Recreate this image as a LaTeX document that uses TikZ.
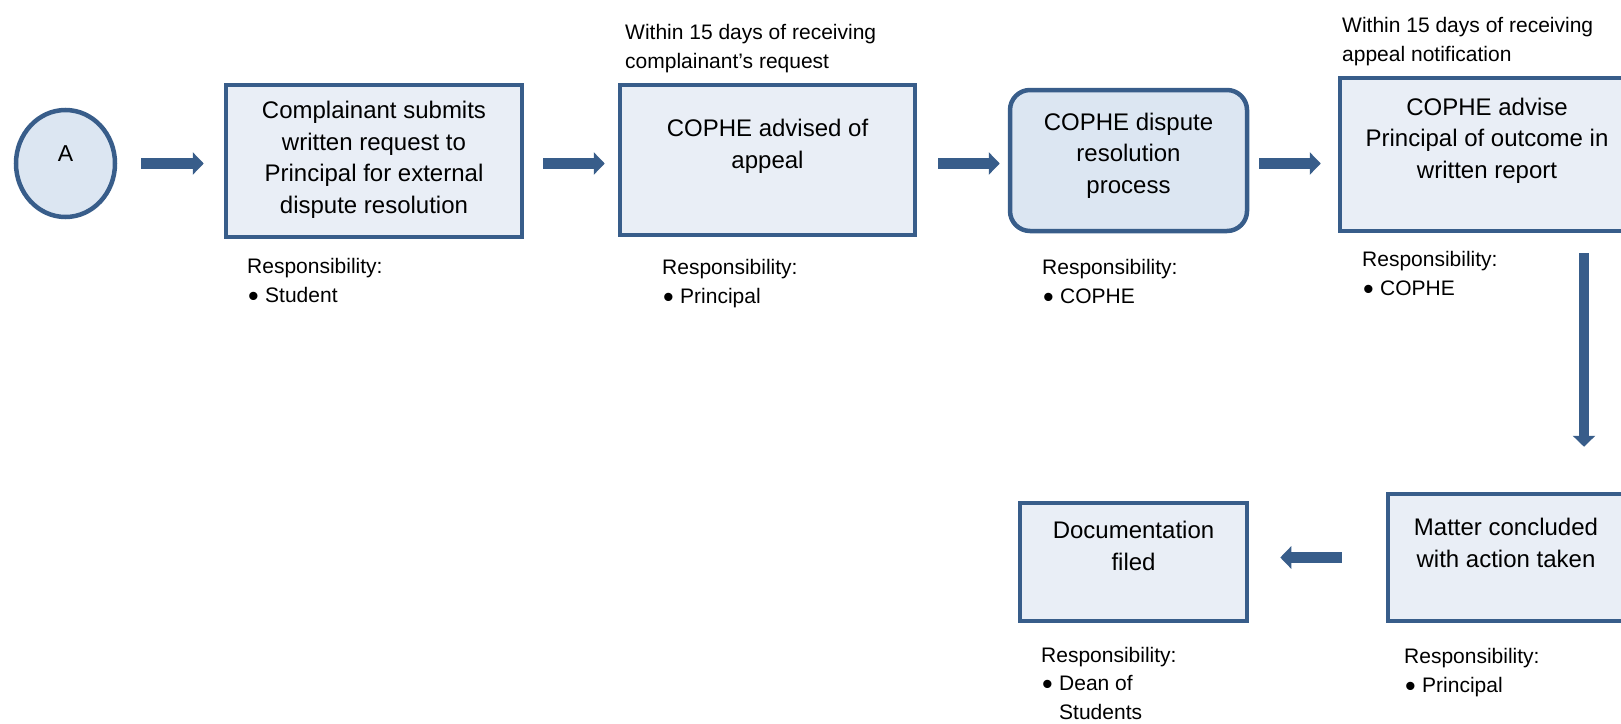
\documentclass[tikz,border=0pt]{standalone}
\usepackage{fontspec}
\setmainfont{Liberation Sans}
\usetikzlibrary{arrows.meta,shapes.geometric}
\definecolor{bord}{RGB}{56,93,138}
\definecolor{boxfill}{RGB}{233,238,246}
\definecolor{boxdark}{RGB}{220,230,242}
\tikzset{
  box/.style={draw=bord, line width=4.5pt, fill=boxfill, rectangle, inner sep=0pt},
  rbox/.style={box, fill=boxdark, rounded corners=20pt},
  startnode/.style={draw=bord, line width=4.5pt, fill=boxdark, ellipse, inner sep=0pt},
  btext/.style={font=\fontsize{24}{31.5}\selectfont, align=center, inner sep=0pt, anchor=base},
  small/.style={font=\fontsize{21}{28.5}\selectfont, align=left, inner sep=0pt, anchor=base west},
  arr/.style={draw=bord, line width=10.5pt, -{Triangle[length=11pt,width=22pt]}}
}
\newcommand{\bul}{\makebox[18pt][l]{\hspace*{1pt}\raisebox{-4pt}{\scalebox{1.45}{\textbullet}}}}
\begin{document}
\begin{tikzpicture}[x=1pt,y=-1pt]
\useasboundingbox (0,0) rectangle (1621,723);
\clip (0,0) rectangle (1621,723);
% start
\node[startnode, minimum width=99pt, minimum height=107pt] (c) at (65.5,163.5) {};
\node[font=\fontsize{23}{28}\selectfont, inner sep=0pt, anchor=base] (tA) at (65.5,161) {A};
% boxes
\node[box, minimum width=296pt, minimum height=152pt] (b1) at (374,161) {};
\node[box, minimum width=295pt, minimum height=150pt] (b2) at (767.5,160) {};
\node[rbox, minimum width=237pt, minimum height=141pt] (b3) at (1128.5,160.5) {};
\node[box, minimum width=294pt, minimum height=153pt] (b4) at (1487,154.5) {};
\node[box, minimum width=236pt, minimum height=127pt] (b5) at (1506,557.5) {};
\node[box, minimum width=227pt, minimum height=118pt] (b6) at (1133.5,562) {};
% box texts (anchor = baseline of last line)
\node[btext] (t1) at (374,213) {Complainant submits\\written request to\\Principal for external\\dispute resolution};
\node[btext] (t2) at (767.5,168) {COPHE advised of\\appeal};
\node[btext] (t3) at (1128.5,193) {COPHE dispute\\resolution\\process};
\node[btext] (t4) at (1487,178) {COPHE advise\\Principal of outcome in\\written report};
\node[btext] (t5) at (1506,567) {Matter concluded\\with action taken};
\node[btext] (t6) at (1133.5,570) {Documentation\\filed};
% notes
\node[small] (n2) at (625,68) {Within 15 days of receiving\\complainant’s request};
\node[small] (n4) at (1342,61) {Within 15 days of receiving\\appeal notification};
% responsibilities
\node[small] (r1) at (247,302) {Responsibility:\\\bul Student};
\node[small] (r2) at (662,303) {Responsibility:\\\bul Principal};
\node[small] (r3) at (1042,303) {Responsibility:\\\bul COPHE};
\node[small] (r4) at (1362,295) {Responsibility:\\\bul COPHE};
\node[small] (r5) at (1404,692) {Responsibility:\\\bul Principal};
\node[small] (r6) at (1041,719) {Responsibility:\\\bul Dean of\\\hspace*{18pt}Students};
% arrows
\coordinate (dx) at (1584,0);
\draw[arr, shorten <=24pt, shorten >=20pt] (c.east) -- (c.east -| b1.west);
\draw[arr, shorten <=19pt, shorten >=13pt] (b1.east |- c) -- (b2.west |- c);
\draw[arr, shorten <=21pt, shorten >=8pt] (b2.east |- c) -- (b3.west |- c);
\draw[arr, shorten <=10pt, shorten >=17pt] (b3.east |- c) -- (b4.west |- c);
\draw[arr, shorten <=20pt, shorten >=45pt] (b4.south -| dx) -- (b5.north -| dx);
\draw[arr, shorten <=44pt, shorten >=31pt] (b5.west) -- (b5.west -| b6.east);
\end{tikzpicture}
\end{document}
